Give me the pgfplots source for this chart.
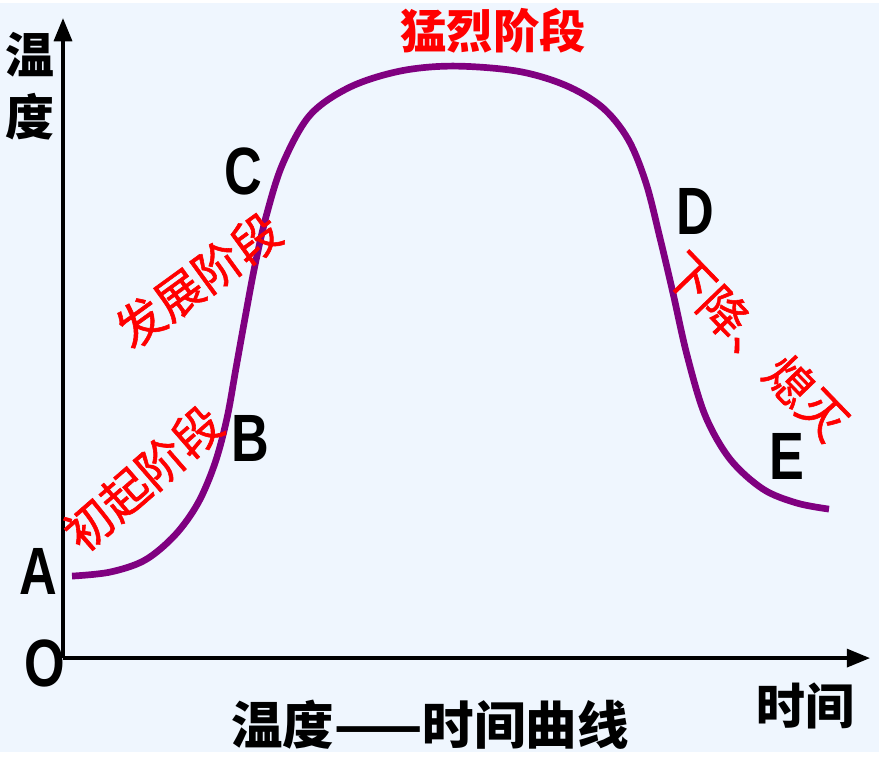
\documentclass[border=0pt]{standalone}
\usepackage{pgfplots}
\pgfplotsset{compat=1.18}
\usepackage{fontspec}
\setmainfont{Liberation Sans}
\newfontfamily\cjk{Noto Sans CJK SC}
\newfontfamily\cjkm{Noto Sans CJK SC}[FakeBold=1.2]
\usetikzlibrary{arrows.meta}
\definecolor{bg}{RGB}{239,246,254}
\definecolor{curve}{RGB}{128,0,128}
\begin{document}
\begin{tikzpicture}
\begin{axis}[
  width=12cm, height=10.225cm, scale only axis,
  xmin=0, xmax=879, ymin=0, ymax=749,
  axis lines=none, clip=false,
]
\fill[bg] (axis cs:0,0) rectangle (axis cs:879,749);
% axes (y data = 749 - pixel y)
\draw[line width=1.3pt, -{Triangle[length=9pt,width=7pt]}] (axis cs:63,94) -- (axis cs:63,734);
\draw[line width=1.3pt, -{Triangle[length=9pt,width=7pt]}] (axis cs:63,94) -- (axis cs:870,94);
\addplot[curve, line width=2.6pt, smooth, tension=0.55] table[y expr=749-\thisrow{py}] {
x py
72 573
110 569
145 557
175 532
198 500
215 460
227 415
236 365
245 315
255 262
267 210
283 160
310 112
350 84
400 68
453 63
517 68
565 82
602 104
628 136
646 180
660 235
673 290
687 352
705 412
730 456
763 486
797 500
829 506
};
% labels
\node[font=\cjk\bfseries\fontsize{19}{22}\selectfont, align=center, inner sep=0pt] at (axis cs:30,666) {温\\[2pt]度};
\node[font=\cjk\bfseries\fontsize{18}{20}\selectfont, text=red] at (axis cs:493,721) {猛烈阶段};
\node[font=\cjkm\fontsize{18.5}{20}\selectfont, text=red, rotate=36] at (axis cs:198,472) {发展阶段};
\node[font=\cjkm\fontsize{18.5}{20}\selectfont, text=red, rotate=41] at (axis cs:143,274) {初起阶段};
\node[font=\cjkm\fontsize{18.5}{20}\selectfont, text=red, rotate=-46] at (axis cs:757,406) {下降、熄灭};
\node[font=\cjk\bfseries\fontsize{19}{22}\selectfont] at (axis cs:805,46) {时间};
\node[font=\cjk\bfseries\fontsize{20}{22}\selectfont] at (axis cs:430,27) {温度——时间曲线};
\begin{scope}[every node/.style={font=\bfseries\fontsize{26}{28}\selectfont, xscale=0.78}]
\node at (axis cs:45,89) {O};
\node at (axis cs:38,181) {A};
\node at (axis cs:250,314) {B};
\node at (axis cs:243,581) {C};
\node at (axis cs:695,541) {D};
\node at (axis cs:787,296) {E};
\end{scope}
\end{axis}
\end{tikzpicture}
\end{document}
